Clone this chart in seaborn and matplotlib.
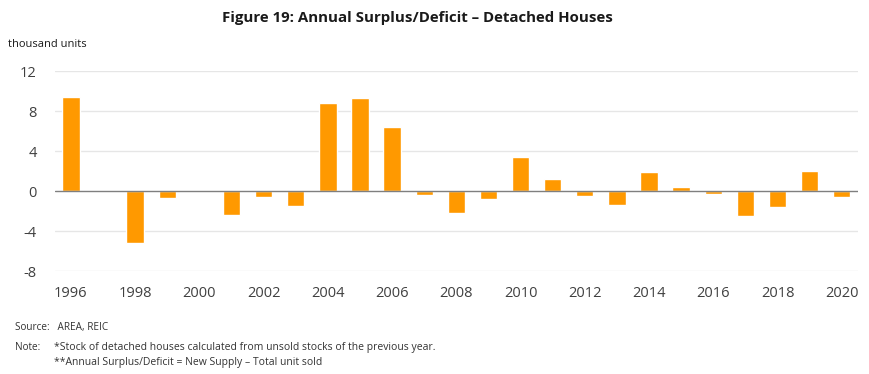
import matplotlib
matplotlib.use("Agg")
import matplotlib.pyplot as plt
import numpy as np
import pandas as pd
import seaborn as sns


years = list(range(1996, 2021))
surplus = [9.4, 0.05, -5.15, -0.7, 0.05, -2.4, -0.6, -1.5, 8.8, 9.3, 6.4, -0.35,
           -2.15, -0.8, 3.45, 1.2, -0.5, -1.4, 1.95, 0.4, -0.25, -2.5, -1.55, 2.05, -0.6]
y_ticks = [-8, -4, 0, 4, 8, 12]

df = pd.DataFrame({"year": [str(y) for y in years], "surplus": surplus})

sns.set_theme(style="white")
plt.rcParams["font.family"] = ["Open Sans", "DejaVu Sans"]

fig = plt.figure(figsize=(8.7, 3.74), dpi=100)
ax = fig.add_axes([0.063, 0.275, 0.923, 0.535])

for t in y_ticks:
    if t != 0:
        ax.axhline(t, color="#e6e6e6", lw=1, zorder=0)

sns.barplot(data=df, x="year", y="surplus", color="#ff9900", width=0.54,
            saturation=1, ax=ax, zorder=2)
ax.axhline(0, color="#7f7f7f", lw=1, zorder=3)

ax.set_ylim(-8, 12)
ax.set_xlim(-0.5, len(years) - 0.5)
ax.set_yticks(y_ticks)
ax.set_yticklabels([str(t) for t in y_ticks])
ax.set_xticks(range(0, len(years), 2))
ax.set_xticklabels([str(y) for y in years[::2]])
ax.tick_params(axis="both", length=0, labelsize=10.5, colors="#404040")
ax.tick_params(axis="x", pad=11)
ax.tick_params(axis="y", pad=13)
ax.set_xlabel("")
ax.set_ylabel("")
for s in ax.spines.values():
    s.set_visible(False)

fig.text(0.48, 0.952, "Figure 19: Annual Surplus/Deficit \u2013 Detached Houses",
         ha="center", va="center", fontsize=10.8, fontweight="bold", color="#1a1a1a")
fig.text(0.009, 0.88, "thousand units", ha="left", va="center", fontsize=8, color="#1a1a1a")
fig.text(0.017, 0.123, "Source:   AREA, REIC", ha="left", va="center", fontsize=7.2, color="#333333")
fig.text(0.017, 0.072, "Note:", ha="left", va="center", fontsize=7.2, color="#333333")
fig.text(0.062, 0.072, "*Stock of detached houses calculated from unsold stocks of the previous year.",
         ha="left", va="center", fontsize=7.5, color="#333333")
fig.text(0.062, 0.032, "**Annual Surplus/Deficit = New Supply \u2013 Total unit sold",
         ha="left", va="center", fontsize=7.5, color="#333333")

fig.savefig("out.png", dpi=100)
